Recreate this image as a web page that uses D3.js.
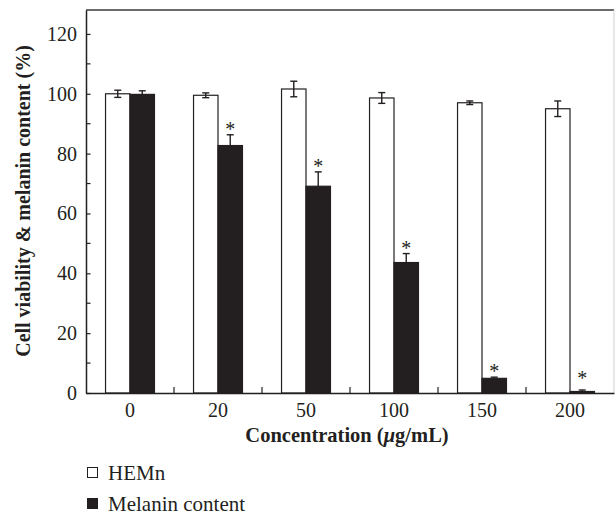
<!DOCTYPE html>
<html>
<head>
<meta charset="utf-8">
<script src="https://cdn.jsdelivr.net/npm/d3@7"></script>
<style>
  body { margin: 0; background: #fff; }
  svg text { font-family: "Liberation Serif", "DejaVu Serif", serif; fill: #231f20; }
</style>
</head>
<body>
<script>
// data
var concentrations = ["0", "20", "50", "100", "150", "200"];
var hemn = [100, 99.5, 101.6, 98.6, 97.0, 95.0];
var hemnErr = [1.2, 0.8, 2.6, 1.8, 0.6, 2.6];
var melanin = [99.8, 82.7, 69.1, 43.6, 4.9, 0.5];
var melaninErr = [1.2, 3.6, 4.8, 3.0, 0.4, 0.5];
var significant = [false, true, true, true, true, true];
var yTicks = [0, 20, 40, 60, 80, 100, 120];
var yMinorTicks = [10, 30, 50, 70, 90, 110];
var seriesNames = ["HEMn", "Melanin content"];

var W = 615, H = 515;
var margin = { top: 10, right: 1, bottom: 122, left: 86 };
var innerW = W - margin.left - margin.right,
    innerH = H - margin.top - margin.bottom;

var svg = d3.select("body").append("svg")
    .attr("width", W)
    .attr("height", H);

var g = svg.append("g")
    .attr("transform", "translate(" + margin.left + "," + margin.top + ")");

var x0 = d3.scaleBand().domain(concentrations).range([0, innerW]).padding(0);
var barW = x0.bandwidth() * 0.278;
var x1 = d3.scaleBand().domain(seriesNames)
    .range([x0.bandwidth() / 2 - barW, x0.bandwidth() / 2 + barW]).padding(0);
var y = d3.scaleLinear().domain([0, 128]).range([innerH, 0]);

var rows = concentrations.map(function (c, i) {
    return { c: c, i: i, vals: [
        { s: seriesNames[0], v: hemn[i], e: hemnErr[i] },
        { s: seriesNames[1], v: melanin[i], e: melaninErr[i] }
    ] };
});

// frame top/right
g.append("line").attr("x1", 0).attr("x2", innerW).attr("y1", 0).attr("y2", 0)
    .attr("stroke", "#3a3a3a").attr("stroke-width", 1.5);
g.append("line").attr("x1", innerW).attr("x2", innerW).attr("y1", 0).attr("y2", innerH)
    .attr("stroke", "#cfcfcf").attr("stroke-width", 1);

// bars
var grp = g.selectAll(".grp").data(rows).enter().append("g")
    .attr("class", "grp")
    .attr("transform", function (d) { return "translate(" + x0(d.c) + ",0)"; });

grp.selectAll("rect").data(function (d) { return d.vals; }).enter().append("rect")
    .attr("x", function (d) { return x1(d.s); })
    .attr("y", function (d) { return y(d.v); })
    .attr("width", x1.bandwidth())
    .attr("height", function (d) { return innerH - y(d.v); })
    .attr("fill", function (d) { return d.s === "HEMn" ? "#fff" : "#231f20"; })
    .attr("stroke", "#231f20")
    .attr("stroke-width", 1.2);

// error bars (HEMn both ways, melanin upward only)
var cap = 3.5;
grp.each(function (d) {
    var sel = d3.select(this);
    d.vals.forEach(function (v) {
        var cx = x1(v.s) + x1.bandwidth() / 2;
        var top = y(v.v + v.e);
        var bot = v.s === "HEMn" ? y(v.v - v.e) : y(v.v);
        sel.append("line").attr("x1", cx).attr("x2", cx).attr("y1", top).attr("y2", bot)
            .attr("stroke", "#231f20").attr("stroke-width", 1.4);
        sel.append("line").attr("x1", cx - cap).attr("x2", cx + cap).attr("y1", top).attr("y2", top)
            .attr("stroke", "#231f20").attr("stroke-width", 1.4);
        if (v.s === "HEMn") {
            sel.append("line").attr("x1", cx - cap).attr("x2", cx + cap).attr("y1", bot).attr("y2", bot)
                .attr("stroke", "#231f20").attr("stroke-width", 1.4);
        }
    });
    if (significant[d.i]) {
        var m = d.vals[1];
        // keep star clear of the axis for tiny bars
        var sy = Math.min(y(m.v + m.e) + 1, innerH - 8);
        sel.append("text")
            .attr("x", x1(m.s) + x1.bandwidth() / 2)
            .attr("y", sy)
            .attr("text-anchor", "middle")
            .style("font-size", "20px")
            .text("*");
    }
});

// y axis
var yAxis = g.append("g")
    .call(d3.axisLeft(y).tickValues(yTicks).tickSizeInner(-4.5).tickSizeOuter(0).tickPadding(9));
yAxis.select(".domain").attr("stroke", "#231f20").attr("stroke-width", 1.5);
yAxis.selectAll(".tick line").attr("stroke", "#231f20").attr("stroke-width", 1.2);
yAxis.selectAll(".tick text").style("font-size", "20px").style("font-family", "Liberation Serif");
yAxis.selectAll(".minor").data(yMinorTicks).enter().append("line")
    .attr("class", "minor")
    .attr("x1", 0).attr("x2", 4.5)
    .attr("y1", function (d) { return y(d); }).attr("y2", function (d) { return y(d); })
    .attr("stroke", "#231f20").attr("stroke-width", 1.2);

// x axis
var xAxis = g.append("g")
    .attr("transform", "translate(0," + innerH + ")")
    .call(d3.axisBottom(x0).tickSize(0).tickPadding(10));
xAxis.select(".domain").attr("stroke", "#231f20").attr("stroke-width", 1.5);
xAxis.selectAll(".tick text").style("font-size", "20px").style("font-family", "Liberation Serif")
    .attr("dy", "0.71em");
xAxis.selectAll(".sep").data(concentrations.slice(1)).enter().append("line")
    .attr("class", "sep")
    .attr("x1", function (d) { return x0(d); }).attr("x2", function (d) { return x0(d); })
    .attr("y1", 0).attr("y2", -6)
    .attr("stroke", "#231f20").attr("stroke-width", 1.2);

// axis titles
var xt = svg.append("text")
    .attr("x", margin.left + innerW / 2 - 3)
    .attr("y", 442)
    .attr("text-anchor", "middle")
    .style("font-size", "20.5px")
    .style("font-weight", "bold");
xt.append("tspan").text("Concentration (");
xt.append("tspan").style("font-style", "italic").text("\u03bc");
xt.append("tspan").text("g/mL)");

svg.append("text")
    .attr("transform", "translate(30,201) rotate(-90)")
    .attr("text-anchor", "middle")
    .style("font-size", "20px")
    .style("font-weight", "bold")
    .text("Cell viability & melanin content (%)");

// legend
var legend = svg.selectAll(".leg").data(seriesNames).enter().append("g")
    .attr("class", "leg")
    .attr("transform", function (d, i) { return "translate(87," + (467 + i * 31) + ")"; });
legend.append("rect")
    .attr("x", 0.5).attr("y", 0.5).attr("width", 10).attr("height", 10)
    .attr("fill", function (d, i) { return i === 0 ? "#fff" : "#231f20"; })
    .attr("stroke", "#231f20").attr("stroke-width", 1);
legend.append("text")
    .attr("x", 21).attr("y", 13)
    .style("font-size", "21px")
    .text(function (d) { return d; });
</script>
</body>
</html>
